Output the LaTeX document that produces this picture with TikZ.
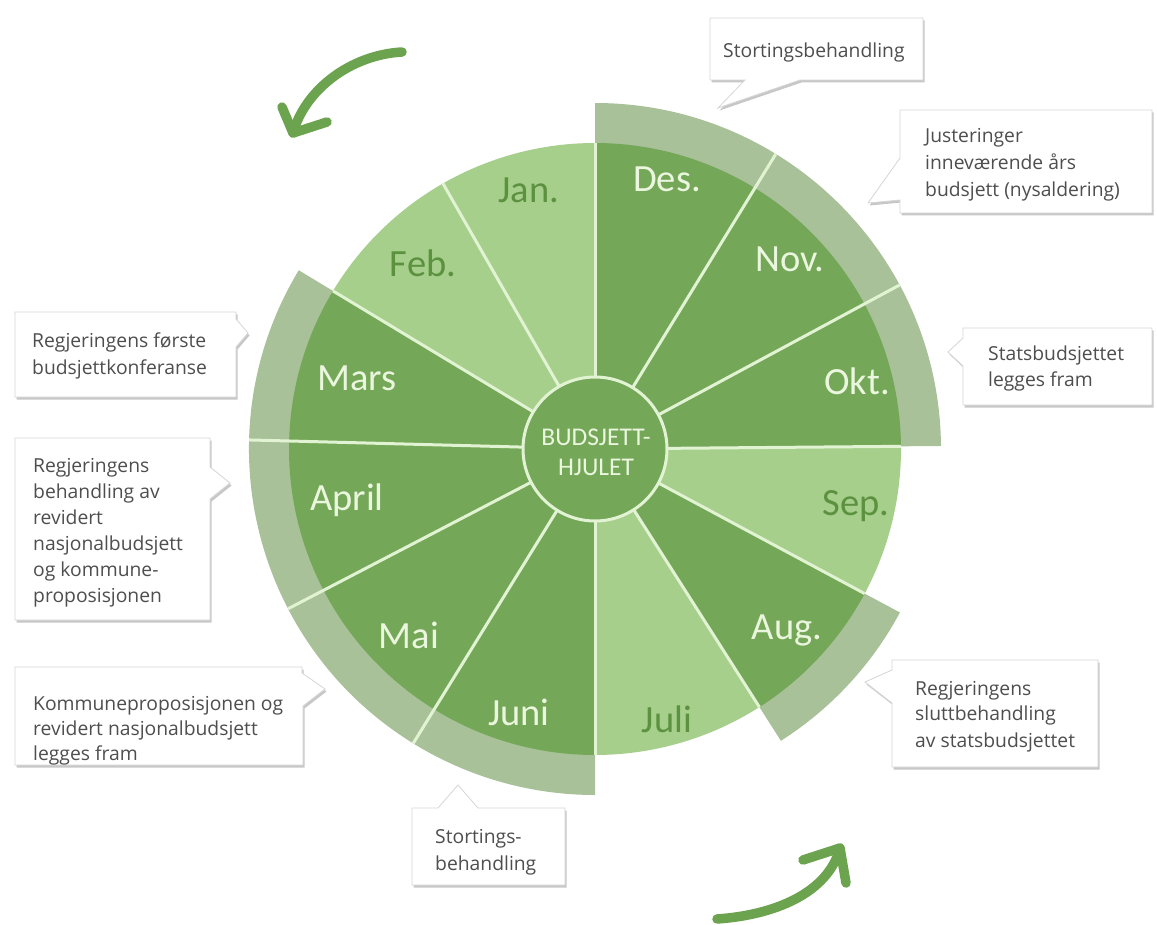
\documentclass[tikz,border=0pt]{standalone}
\usepackage{fontspec}
\setmainfont{Open Sans}
\newfontfamily\monthfont{Carlito}
\usetikzlibrary{shadows}
\definecolor{darkg}{RGB}{116,167,88}
\definecolor{lightg}{RGB}{165,207,138}
\definecolor{bandg}{RGB}{168,193,153}
\definecolor{divc}{RGB}{226,243,212}
\definecolor{arrowc}{RGB}{108,163,79}
\definecolor{txtlight}{RGB}{234,246,222}
\definecolor{txtdark}{RGB}{92,145,64}
\definecolor{calltxt}{RGB}{78,78,78}
\definecolor{callborder}{RGB}{214,214,214}
\tikzset{
  monthD/.style={font=\monthfont\fontsize{38.5}{42}\selectfont, text=txtlight, inner sep=0pt, anchor=base},
  monthL/.style={font=\monthfont\fontsize{38.5}{42}\selectfont, text=txtdark, inner sep=0pt, anchor=base},
  hubtxt/.style={font=\monthfont\fontsize{25.5}{28}\selectfont, text=txtlight, inner sep=0pt, anchor=base},
  ctext/.style={font=\fontsize{19.3}{26}\selectfont, text=calltxt, inner sep=0pt, anchor=base west},
  callout/.style={fill=white, draw=callborder, line width=0.8pt, line join=miter,
    drop shadow={shadow xshift=1.5pt, shadow yshift=-2.5pt, opacity=0.22, fill=black}},
  divider/.style={draw=divc, line width=3pt},
  bigarrow/.style={draw=arrowc, line width=9.5pt, line cap=round, line join=round}
}
\begin{document}
\begin{tikzpicture}[x=1pt,y=-1pt]
\useasboundingbox (0,0) rectangle (1157,925);
\fill[white] (0,0) rectangle (1157,925);

% ---------------- wheel ----------------
\begin{scope}[shift={(595,449)}, y=1pt]
  % outer grey bands
  \fill[bandg] (0,0) -- (0.5:346) arc[start angle=0.5, end angle=90, radius=346] -- cycle;
  \fill[bandg] (0,0) -- (-57.5:346) arc[start angle=-57.5, end angle=-28.2, radius=346] -- cycle;
  \fill[bandg] (0,0) -- (148.9:346) arc[start angle=148.9, end angle=270, radius=346] -- cycle;
  % month sectors
  \foreach \a/\b/\c in {58.5/90/darkg, 28.3/58.5/darkg, 0.5/28.3/darkg, -28.2/0.5/lightg,
      -57.5/-28.2/darkg, -90/-57.5/lightg, -121.7/-90/darkg, -152.5/-121.7/darkg,
      178.5/207.5/darkg, 148.9/178.5/darkg, 119.8/148.9/lightg, 90/119.8/lightg}
    \fill[\c] (0,0) -- (\a:306) arc[start angle=\a, end angle=\b, radius=306] -- cycle;
  % dividers
  \foreach \a/\r in {90/306, 58.5/346, 28.3/346, 0.5/306, -28.2/306, -57.5/306, -90/306,
      -121.7/346, -152.5/346, 178.5/346, 148.9/306, 119.8/306}
    \draw[divider] (\a:72) -- (\a:\r);
  % hub
  \filldraw[fill=darkg, draw=divc, line width=3pt] (0,0) circle[radius=72];
\end{scope}

\node[hubtxt] (hub1) at (596,445) {BUDSJETT-};
\node[hubtxt] (hub2) at (596,475) {HJULET};

% month labels
\node[monthL] (jan) at (529,203) {Jan.};
\node[monthL] (feb) at (423,277) {Feb.};
\node[monthD] (des) at (667,192) {Des.};
\node[monthD] (nov) at (790,272) {Nov.};
\node[monthD] (okt) at (857,395) {Okt.};
\node[monthL] (sep) at (856,515) {Sep.};
\node[monthD] (aug) at (787,639) {Aug.};
\node[monthL] (juli) at (667,732) {Juli};
\node[monthD] (juni) at (519,725) {Juni};
\node[monthD] (mai) at (409,648) {Mai};
\node[monthD] (april) at (347,510) {April};
\node[monthD] (mars) at (357,390) {Mars};

% ---------------- callouts ----------------
\draw[callout] (710,18) -- (923,18) -- (923,80) -- (800,80) -- (718,108) -- (745,80) -- (710,80) -- cycle;
\node[ctext] (c1a) at (723,58) {Stortingsbehandling};

\draw[callout] (900,110) -- (1152,110) -- (1152,213) -- (900,213) -- (900,200) -- (868,203) -- (900,158) -- cycle;
\node[ctext] (c2a) at (925,143) {Justeringer};
\node[ctext] (c2b) at (925,170) {inneværende års};
\node[ctext] (c2c) at (925,197) {budsjett (nysaldering)};

\draw[callout] (963,328) -- (1152,328) -- (1152,405) -- (963,405) -- (963,366) -- (948,352) -- (963,338) -- cycle;
\node[ctext] (c3a) at (988,361) {Statsbudsjettet};
\node[ctext] (c3b) at (988,387) {legges fram};

\draw[callout] (15,312) -- (236,312) -- (236,319) -- (248,333) -- (236,347) -- (236,397) -- (15,397) -- cycle;
\node[ctext] (c4a) at (32,348) {Regjeringens første};
\node[ctext] (c4b) at (32,374) {budsjettkonferanse};

\draw[callout] (15,438) -- (210,438) -- (210,467) -- (230,483) -- (210,499) -- (210,620) -- (15,620) -- cycle;
\node[ctext] (c5a) at (33,472) {Regjeringens};
\node[ctext] (c5b) at (33,498) {behandling av};
\node[ctext] (c5c) at (33,524) {revidert};
\node[ctext] (c5d) at (33,550) {nasjonalbudsjett};
\node[ctext] (c5e) at (33,576) {og kommune-};
\node[ctext] (c5f) at (33,602) {proposisjonen};

\draw[callout] (15,667) -- (302,667) -- (302,673) -- (325,689) -- (303,706) -- (303,765) -- (15,765) -- cycle;
\node[ctext] (c6a) at (33,710) {Kommuneproposisjonen og};
\node[ctext] (c6b) at (33,735) {revidert nasjonalbudsjett};
\node[ctext] (c6c) at (33,760) {legges fram};

\draw[callout] (412,808) -- (438,808) -- (458,785) -- (478,808) -- (565,808) -- (565,885) -- (412,885) -- cycle;
\node[ctext] (c7a) at (435,843) {Stortings-};
\node[ctext] (c7b) at (435,870) {behandling};

\draw[callout] (892,660) -- (1098,660) -- (1098,767) -- (892,767) -- (892,703) -- (865,682) -- (892,670) -- cycle;
\node[ctext] (c8a) at (915,695) {Regjeringens};
\node[ctext] (c8b) at (915,720) {sluttbehandling};
\node[ctext] (c8c) at (915,747) {av statsbudsjettet};

% ---------------- curved arrows ----------------
\coordinate (a1s) at (402,52);
\coordinate (a1t) at (293,133);
\coordinate (a1l) at (282,107);
\coordinate (a1r) at (327,122);
\draw[bigarrow] (a1s) .. controls (350,55) and (305,90) .. (a1t);
\draw[bigarrow] (a1l) -- (a1t) -- (a1r);

\coordinate (a2s) at (717,919);
\coordinate (a2t) at (840,848);
\coordinate (a2l) at (803,860);
\coordinate (a2r) at (846,883);
\draw[bigarrow] (a2s) .. controls (775,915) and (828,893) .. (a2t);
\draw[bigarrow] (a2l) -- (a2t) -- (a2r);
\end{tikzpicture}
\end{document}
